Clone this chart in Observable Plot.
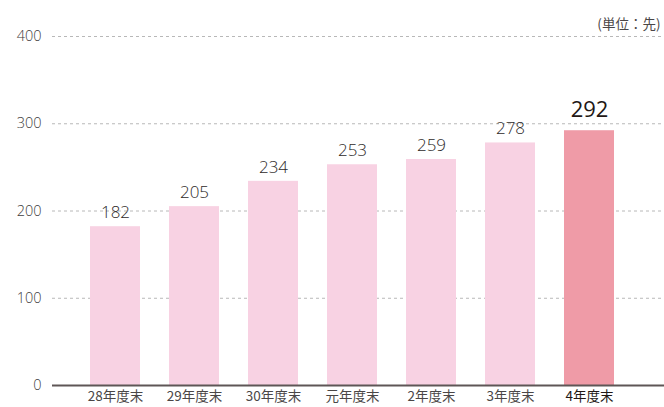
<!DOCTYPE html>
<html><head><meta charset="utf-8">
<script src="https://cdn.jsdelivr.net/npm/d3@7"></script>
<script src="https://cdn.jsdelivr.net/npm/@observablehq/plot@0.6"></script>
<style>body{margin:0;background:#fff}</style>
</head><body><div id="chart"></div>
<script>
const categories = ["28年度末","29年度末","30年度末","元年度末","2年度末","3年度末","4年度末"];
const values = [182, 205, 234, 253, 259, 278, 292];
const yTicks = [0, 100, 200, 300, 400];
const gridTicks = [100, 200, 300, 400];
const unitLabel = "(単位：先)";
const current = "4年度末";

const data = categories.map((c, i) => ({cat: c, value: values[i], cur: c === current}));
const font = "'Noto Sans CJK JP', 'Open Sans', sans-serif";
const numFont = "'Open Sans', 'Noto Sans CJK JP', sans-serif";

const chart = Plot.plot({
  width: 664, height: 407,
  marginLeft: 52, marginRight: 0, marginTop: 36, marginBottom: 22,
  style: {fontFamily: font, background: "#fff"},
  x: {domain: categories, paddingInner: 0.37, paddingOuter: 0.542, align: 0.43, axis: null},
  y: {domain: [0, 400], axis: null},
  marks: [
    Plot.ruleY(gridTicks, {stroke: "#b8b8b8", strokeDasharray: "3,3", strokeWidth: 1}),
    Plot.barY(data, {x: "cat", y: "value", fill: d => d.cur ? "#ef9ba7" : "#f8d2e3"}),
    Plot.ruleY([0], {stroke: "#5e5656", strokeWidth: 2}),
    Plot.text(yTicks, {y: d => d, frameAnchor: "left", textAnchor: "end", dx: -11, fontSize: 14.5, fontFamily: numFont, fontWeight: 300, fill: "#403c3c", text: d => String(d)}),
    Plot.text(data.filter(d => !d.cur), {x: "cat", y: "value", text: d => String(d.value), dy: -14, fontSize: 17, fontFamily: numFont, fontWeight: 300, fill: "#2e2a29"}),
    Plot.text(data.filter(d => d.cur), {x: "cat", y: "value", text: d => String(d.value), dy: -21, fontSize: 22, fontFamily: numFont, fontWeight: 400, fill: "#231815"}),
    Plot.text(data, {x: "cat", text: "cat", frameAnchor: "bottom", dy: 15, fontSize: 13.5,
      fill: d => d.cur ? "#231815" : "#4a4646", fontWeight: d => d.cur ? "bold" : "normal"}),
    Plot.text([unitLabel], {frameAnchor: "top-right", textAnchor: "end", dx: -4, dy: -17, fontSize: 13.5, fill: "#4a4646", text: d => d})
  ]
});
document.getElementById("chart").append(chart);
</script>
</body></html>
